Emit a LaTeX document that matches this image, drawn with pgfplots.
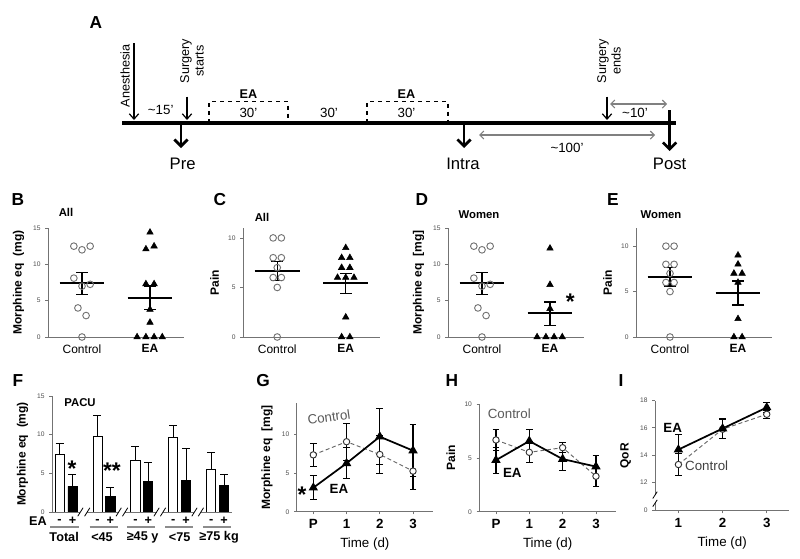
\documentclass[border=0pt]{standalone}
\usepackage{fontspec}
\setmainfont{Liberation Sans}
\usepackage{pgfplots}
\pgfplotsset{compat=1.18}
\usetikzlibrary{arrows.meta}

\newcommand{\fs}[1]{\fontsize{#1}{#1}\selectfont}

\tikzset{astk/.style={font=\bfseries\fs{17}, yshift=-4pt}}

\pgfplotsset{
  panel/.style={
    scale only axis, clip=false, anchor=south west,
    axis x line*=bottom, axis y line*=left,
    axis line style={black!55, line width=0.6pt},
    tick style={black!55, line width=0.6pt},
    major tick length=2pt, tick align=outside,
    /pgf/number format/assume math mode=true,
    yticklabel style={font=\fs{5}, text=black!70},
    xticklabel style={font=\fs{9}, text=black},
    ylabel style={font=\bfseries\fs{9}},
    xlabel style={font=\fs{10}},
  },
  scat/.style={panel, xmin=0.5, xmax=2.5, xtick={1,2}, xtick style={draw=none},
    xticklabels={Control,\textbf{EA}}},
  ctl/.style={only marks, mark=o, mark size=2.5pt, black!55, mark options={line width=0.7pt}},
  eam/.style={only marks, mark=triangle*, mark size=2.8pt, black},
  meanl/.style={black, line width=1.5pt, mark=none},
  sem/.style={black, mark=none, error bars/.cd, y dir=both, y explicit,
    error bar style={line width=1.1pt}, error mark options={rotate=90, mark size=4.5pt, line width=1.1pt}},
  ctlline/.style={black!60, densely dashed, line width=0.7pt, mark=*, mark size=2.4pt,
    mark options={solid, fill=white, draw=black!80, line width=0.7pt},
    error bars/.cd, y dir=both, y explicit, error bar style={black, solid, line width=0.8pt},
    error mark options={black, solid, rotate=90, mark size=2.5pt, line width=0.8pt}},
  ealine/.style={black, line width=1.3pt, mark=triangle*, mark size=2.8pt, mark options={solid},
    error bars/.cd, y dir=both, y explicit, error bar style={black, line width=0.8pt},
    error mark options={black, rotate=90, mark size=2.5pt, line width=0.8pt}},
  tpanel/.style={panel, xtick={0,1,2,3}, xticklabels={P,1,2,3},
    xticklabel style={font=\bfseries\fs{10}}, xmin=-0.5, xmax=3.6, xlabel={Time (d)}},
}

\begin{document}
\begin{tikzpicture}
\path[use as bounding box] (0,0) rectangle (600pt,418.5pt);

% overlay in pixel units: timeline (A), panel letters, titles
\begin{axis}[at={(0,0)}, anchor=south west, scale only axis, width=600pt, height=418.5pt,
  xmin=0, xmax=800, ymin=0, ymax=558, y dir=reverse, hide axis, clip=false]
\coordinate (pB) at (axis cs:48,337);
\coordinate (pC) at (axis cs:243,337);
\coordinate (pD) at (axis cs:448,337);
\coordinate (pE) at (axis cs:636,337);
\coordinate (pF) at (axis cs:52,512);
\coordinate (pG) at (axis cs:296.7,511.7);
\coordinate (pH) at (axis cs:479.3,511.7);
\coordinate (pI) at (axis cs:655,510.7);

% timeline
\draw[line width=2.8pt] (axis cs:122,122.7) -- (axis cs:676,122.7);
\draw[-{Straight Barb[length=4pt,width=7pt]}, line width=0.9pt] (axis cs:134,43) -- (axis cs:134,120);
\draw[-{Straight Barb[length=4pt,width=7pt]}, line width=0.9pt] (axis cs:187,96.7) -- (axis cs:187,120);
\draw[-{Straight Barb[length=4pt,width=7pt]}, line width=0.9pt] (axis cs:607,96.7) -- (axis cs:607,120);
\draw[-{Straight Barb[length=5pt,width=10pt]}, line width=2pt] (axis cs:181,122.7) -- (axis cs:181,148);
\draw[-{Straight Barb[length=5pt,width=10pt]}, line width=2pt] (axis cs:464,122.7) -- (axis cs:464,148);
\draw[-{Straight Barb[length=5pt,width=10pt]}, line width=2pt] (axis cs:669.6,110) -- (axis cs:669.6,151);
\draw[dashed, line width=0.8pt] (axis cs:209,122.7) -- (axis cs:209,101.7) -- (axis cs:288,101.7) -- (axis cs:288,122.7);
\draw[dashed, line width=0.8pt] (axis cs:367,122.7) -- (axis cs:367,101.7) -- (axis cs:448,101.7) -- (axis cs:448,122.7);
\draw[{Straight Barb[length=3pt]}-{Straight Barb[length=3pt]}, black!50, line width=0.8pt] (axis cs:479,135) -- (axis cs:655,135);
\draw[{Straight Barb[length=3pt]}-{Straight Barb[length=3pt]}, black!50, line width=0.8pt] (axis cs:610,104) -- (axis cs:667,104);
\node[rotate=90, font=\fs{9.5}] at (axis cs:125,76) {Anesthesia};
\node[rotate=90, font=\fontsize{9.5}{11}\selectfont, align=center] at (axis cs:192,61) {Surgery\\starts};
\node[rotate=90, font=\fontsize{9.5}{11}\selectfont, align=center] at (axis cs:609,61) {Surgery\\ends};
\node[font=\fs{10}] at (axis cs:160.7,110) {\textasciitilde15'};
\node[font=\bfseries\fs{9.5}] at (axis cs:248.4,94.3) {EA};
\node[font=\fs{10}] at (axis cs:248.4,113.3) {30'};
\node[font=\fs{10}] at (axis cs:329,113.3) {30'};
\node[font=\bfseries\fs{9.5}] at (axis cs:406.5,94.3) {EA};
\node[font=\fs{10}] at (axis cs:406.5,113.3) {30'};
\node[font=\fs{10}] at (axis cs:567,148.3) {\textasciitilde100'};
\node[font=\fs{10}] at (axis cs:635,113.3) {\textasciitilde10'};
\node[font=\fs{12.5}] at (axis cs:182.6,164) {Pre};
\node[font=\fs{12.5}] at (axis cs:463,164) {Intra};
\node[font=\fs{12.5}] at (axis cs:669.6,164) {Post};

% panel letters
\node[font=\bfseries\fs{13}] at (axis cs:96,23) {A};
\node[font=\bfseries\fs{13}] at (axis cs:18,200) {B};
\node[font=\bfseries\fs{13}] at (axis cs:220,200) {C};
\node[font=\bfseries\fs{13}] at (axis cs:422,200) {D};
\node[font=\bfseries\fs{13}] at (axis cs:613,200) {E};
\node[font=\bfseries\fs{13}] at (axis cs:18,381) {F};
\node[font=\bfseries\fs{13}] at (axis cs:263,381) {G};
\node[font=\bfseries\fs{13}] at (axis cs:452,381) {H};
\node[font=\bfseries\fs{13}] at (axis cs:621,381) {I};

% subtitles
\node[font=\bfseries\fs{8.5}] at (axis cs:66,212) {All};
\node[font=\bfseries\fs{8.5}] at (axis cs:262,217) {All};
\node[font=\bfseries\fs{8.5}] at (axis cs:479,215) {Women};
\node[font=\bfseries\fs{8.5}] at (axis cs:661,215) {Women};
\end{axis}

% B
\begin{axis}[scat, at={(pB)}, width=102pt, height=81.75pt, ymin=0, ymax=15, ytick={0,5,10,15},
  ylabel={Morphine eq\ \ (mg)}]
\addplot[ctl] coordinates {(0.88,12.5) (1,12) (1.12,12.5) (0.88,8.1) (1,7.0) (1.12,7.25) (0.94,4.0) (1.06,2.95) (1,0)};
\addplot[eam] coordinates {(2,14.4) (1.94,12.1) (2.06,12.5) (1.94,7.3) (2.06,7.3) (2,3.8) (2,2.0) (1.81,0) (1.94,0) (2.06,0) (2.18,0)};
\addplot[meanl] coordinates {(0.67,7.38) (1.33,7.38)};
\addplot[meanl] coordinates {(1.67,5.4) (2.33,5.4)};
\addplot[sem] coordinates {(1,7.38) += (0,1.5) -= (0,1.5)};
\addplot[sem] coordinates {(2,5.4) += (0,1.65) -= (0,1.6)};
\end{axis}

% C
\begin{axis}[scat, at={(pC)}, width=102.75pt, height=81.75pt, ymin=0, ymax=11, ytick={0,5,10},
  ylabel={Pain}]
\addplot[ctl] coordinates {(0.94,10) (1.06,10) (0.94,8) (1.06,8) (1,7) (0.94,6) (1.06,6) (1,5) (1,0)};
\addplot[eam] coordinates {(2,9) (1.94,8) (2.06,8) (1.94,7) (2.06,7) (1.88,6) (2,6) (2.12,6) (2,2) (1.94,0) (2.06,0)};
\addplot[meanl] coordinates {(0.67,6.68) (1.33,6.68)};
\addplot[meanl] coordinates {(1.67,5.4) (2.33,5.4)};
\addplot[sem] coordinates {(1,6.68) += (0,0.95) -= (0,1.0)};
\addplot[sem] coordinates {(2,5.4) += (0,1.0) -= (0,1.0)};
\end{axis}

% D
\begin{axis}[scat, at={(pD)}, width=102pt, height=81.75pt, ymin=0, ymax=15, ytick={0,5,10,15},
  ylabel={Morphine eq\ \ [mg]}]
\addplot[ctl] coordinates {(0.88,12.5) (1,12) (1.12,12.5) (0.88,8.1) (1,7.0) (1.12,7.25) (0.94,4.0) (1.06,2.95) (1,0)};
\addplot[eam] coordinates {(2,12.2) (2,7.2) (2,3.9) (1.81,0) (1.94,0) (2.06,0) (2.18,0)};
\addplot[meanl] coordinates {(0.67,7.38) (1.33,7.38)};
\addplot[meanl] coordinates {(1.67,3.25) (2.33,3.25)};
\addplot[sem] coordinates {(1,7.38) += (0,1.5) -= (0,1.5)};
\addplot[sem] coordinates {(2,3.25) += (0,1.55) -= (0,1.65)};
\node[astk] at (axis cs:2.3,5.6) {*};
\end{axis}

% E
\begin{axis}[scat, at={(pE)}, width=102pt, height=81.75pt, ymin=0, ymax=12, ytick={0,5,10},
  ylabel={Pain}]
\addplot[ctl] coordinates {(0.94,10) (1.06,10) (0.94,8) (1.06,8) (1,7) (0.94,6) (1.06,6) (1,5) (1,0)};
\addplot[eam] coordinates {(2,9) (2,8) (1.94,7) (2.06,7) (2,6) (2,2) (1.94,0) (2.06,0)};
\addplot[meanl] coordinates {(0.67,6.63) (1.33,6.63)};
\addplot[meanl] coordinates {(1.67,4.87) (2.33,4.87)};
\addplot[sem] coordinates {(1,6.63) += (0,1.0) -= (0,1.0)};
\addplot[sem] coordinates {(2,4.87) += (0,1.3) -= (0,1.35)};
\end{axis}

% F
\begin{axis}[panel, axis x line=none, at={(pF)}, width=135pt, height=87pt,
  xmin=-0.37, xmax=4.38, ymin=0, ymax=15, ytick={0,5,10,15}, ylabel={Morphine eq\ \ (mg)}]
\addplot[ybar, bar width=0.24, bar shift=0pt, fill=white, draw=black, line width=0.6pt,
  error bars/.cd, y dir=plus, y explicit, error bar style={line width=0.7pt},
  error mark options={rotate=90, mark size=3pt, line width=0.7pt}]
  coordinates {(-0.17,7.4) +- (0,1.5) (0.83,9.75) +- (0,2.75) (1.83,6.7) +- (0,1.75) (2.83,9.7) +- (0,1.5) (3.83,5.5) +- (0,2.2)};
\addplot[ybar, bar width=0.24, bar shift=0pt, fill=black, draw=black, line width=0.6pt,
  error bars/.cd, y dir=plus, y explicit, error bar style={line width=0.7pt},
  error mark options={rotate=90, mark size=3pt, line width=0.7pt}]
  coordinates {(0.17,3.3) +- (0,1.6) (1.17,2.05) +- (0,1.1) (2.17,4.0) +- (0,2.4) (3.17,4.1) +- (0,4.1) (4.17,3.4) +- (0,1.5)};
% broken baseline
\draw[black!55, line width=0.6pt] (axis cs:-0.37,0) -- (axis cs:0.38,0);
\draw[black!55, line width=0.6pt] (axis cs:0.56,0) -- (axis cs:1.39,0);
\draw[black!55, line width=0.6pt] (axis cs:1.56,0) -- (axis cs:2.39,0);
\draw[black!55, line width=0.6pt] (axis cs:2.56,0) -- (axis cs:3.39,0);
\draw[black!55, line width=0.6pt] (axis cs:3.56,0) -- (axis cs:4.38,0);
\draw[black, line width=0.6pt] (axis cs:0.31,-0.55) -- (axis cs:0.45,0.55);
\draw[black, line width=0.6pt] (axis cs:0.49,-0.55) -- (axis cs:0.63,0.55);
\draw[black, line width=0.6pt] (axis cs:1.32,-0.55) -- (axis cs:1.46,0.55);
\draw[black, line width=0.6pt] (axis cs:1.49,-0.55) -- (axis cs:1.63,0.55);
\draw[black, line width=0.6pt] (axis cs:2.32,-0.55) -- (axis cs:2.46,0.55);
\draw[black, line width=0.6pt] (axis cs:2.49,-0.55) -- (axis cs:2.63,0.55);
\draw[black, line width=0.6pt] (axis cs:3.32,-0.55) -- (axis cs:3.46,0.55);
\draw[black, line width=0.6pt] (axis cs:3.49,-0.55) -- (axis cs:3.63,0.55);
% EA -/+ rows and group names
\node[font=\bfseries\fs{9.5}] at ([yshift=-6.75pt]axis cs:-0.74,0) {EA};
\node[font=\bfseries\fs{9.5}] at ([yshift=-6.75pt]axis cs:-0.17,0) {-};
\node[font=\bfseries\fs{9.5}] at ([yshift=-6.75pt]axis cs:0.17,0) {+};
\node[font=\bfseries\fs{9.5}] at ([yshift=-6.75pt]axis cs:0.83,0) {-};
\node[font=\bfseries\fs{9.5}] at ([yshift=-6.75pt]axis cs:1.17,0) {+};
\node[font=\bfseries\fs{9.5}] at ([yshift=-6.75pt]axis cs:1.83,0) {-};
\node[font=\bfseries\fs{9.5}] at ([yshift=-6.75pt]axis cs:2.17,0) {+};
\node[font=\bfseries\fs{9.5}] at ([yshift=-6.75pt]axis cs:2.83,0) {-};
\node[font=\bfseries\fs{9.5}] at ([yshift=-6.75pt]axis cs:3.17,0) {+};
\node[font=\bfseries\fs{9.5}] at ([yshift=-6.75pt]axis cs:3.83,0) {-};
\node[font=\bfseries\fs{9.5}] at ([yshift=-6.75pt]axis cs:4.17,0) {+};
\draw[black!45, line width=0.8pt] ([yshift=-11.25pt]axis cs:-0.42,0) -- ([yshift=-11.25pt]axis cs:0.34,0);
\draw[black!45, line width=0.8pt] ([yshift=-11.25pt]axis cs:0.62,0) -- ([yshift=-11.25pt]axis cs:1.36,0);
\draw[black!45, line width=0.8pt] ([yshift=-11.25pt]axis cs:1.62,0) -- ([yshift=-11.25pt]axis cs:2.36,0);
\draw[black!45, line width=0.8pt] ([yshift=-11.25pt]axis cs:2.62,0) -- ([yshift=-11.25pt]axis cs:3.36,0);
\draw[black!45, line width=0.8pt] ([yshift=-11.25pt]axis cs:3.62,0) -- ([yshift=-11.25pt]axis cs:4.36,0);
\node[font=\bfseries\fs{9.5}] at ([yshift=-18.75pt]axis cs:-0.05,0) {Total};
\node[font=\bfseries\fs{9.5}] at ([yshift=-18.75pt]axis cs:0.95,0) {<45};
\node[font=\bfseries\fs{9.5}] at ([yshift=-18.75pt]axis cs:2.02,0) {≥45 y};
\node[font=\bfseries\fs{9.5}] at ([yshift=-18.75pt]axis cs:3,0) {<75};
\node[font=\bfseries\fs{9.5}] at ([yshift=-18.75pt]axis cs:4.04,0) {≥75 kg};
\node[font=\bfseries\fs{8.5}] at (axis cs:0.37,14.1) {PACU};
\node[astk] at (axis cs:0.16,6.3) {*};
\node[astk] at (axis cs:1.21,6.0) {**};
\end{axis}

% G
\begin{axis}[tpanel, at={(pG)}, width=102.2pt, height=81.2pt, ymin=0, ymax=14, ytick={0,5,10},
  ylabel={Morphine eq\ \ [mg]}]
\addplot[ctlline] coordinates {(0,7.35) +- (0,1.5) (1,9.05) += (0,2.35) -= (0,2.4) (2,7.4) +- (0,2.4) (3,5.25) +- (0,2.35)};
\addplot[ealine] coordinates {(0,3.1) +- (0,1.55) (1,6.26) +- (0,2.0) (2,9.7) +- (0,3.6) (3,7.9) +- (0,3.4)};
\node[font=\fs{10}, text=black!65, rotate=8] at (axis cs:0.47,12.25) {Control};
\node[font=\bfseries\fs{10}] at (axis cs:0.77,2.9) {EA};
\node[astk] at (axis cs:-0.34,2.9) {*};
\end{axis}

% H
\begin{axis}[tpanel, at={(pH)}, width=102.5pt, height=80.55pt, ymin=0, ymax=10, ytick={0,5,10},
  ylabel={Pain}]
\addplot[ctlline] coordinates {(0,6.68) +- (0,1.0) (1,5.53) +- (0,0.97) (2,5.96) +- (0,0.45) (3,3.3) +- (0,0.95)};
\addplot[ealine] coordinates {(0,4.8) +- (0,1.2) (1,6.58) +- (0,1.1) (2,4.9) +- (0,1.05) (3,4.2) +- (0,1.0)};
\node[font=\fs{10}, text=black!65] at (axis cs:0.4,9.1) {Control};
\node[font=\bfseries\fs{10}] at (axis cs:0.49,3.6) {EA};
\end{axis}

% I
\begin{axis}[panel, at={(pI)}, width=100.7pt, height=82.5pt, xmin=0.47, xmax=3.51, ymin=9.9, ymax=18,
  xtick={1,2,3}, xticklabel style={font=\bfseries\fs{10}}, xlabel={Time (d)},
  ytick={9.9,12,14,16,18}, yticklabels={0,12,14,16,18}, y axis line style={draw=none},
  ylabel={QoR}]
\draw[black!55, line width=0.6pt] (axis cs:0.47,9.9) -- (axis cs:0.47,10.45);
\draw[black!55, line width=0.6pt] (axis cs:0.47,11.05) -- (axis cs:0.47,18);
\draw[black, line width=0.6pt] (axis cs:0.42,10.2) -- (axis cs:0.52,10.7);
\draw[black, line width=0.6pt] (axis cs:0.42,10.8) -- (axis cs:0.52,11.3);
\addplot[ctlline] coordinates {(1,13.3) +- (0,0.8) (2,15.9) +- (0,0.7) (3,17.0) +- (0,0.3)};
\addplot[ealine] coordinates {(1,14.4) +- (0,1.1) (2,15.95) +- (0,0.75) (3,17.5) +- (0,0.35)};
\node[font=\bfseries\fs{10}] at (axis cs:0.87,15.97) {EA};
\node[font=\fs{10}, text=black!75] at (axis cs:1.64,13.2) {Control};
\end{axis}
\end{tikzpicture}
\end{document}
